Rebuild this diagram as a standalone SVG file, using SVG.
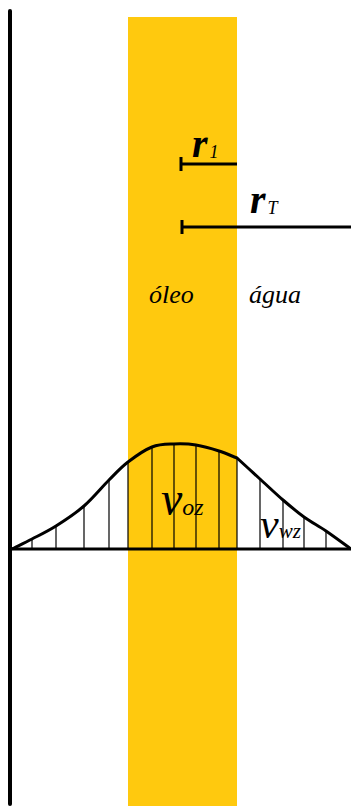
<svg xmlns="http://www.w3.org/2000/svg" width="351" height="806" viewBox="0 0 351 806">
<style>
.t{font-family:"Liberation Serif",serif;font-style:italic;fill:#000}
.h{stroke:#000;stroke-width:1.2}
</style>
<rect width="351" height="806" fill="#fff"/>
<g id="band"><rect x="128" y="17" width="109" height="789" fill="#FFC90E"/></g>
<g id="wall"><line x1="10" y1="11" x2="10" y2="804" stroke="#000" stroke-width="4" stroke-linecap="round"/></g>
<g id="connectors">
<path d="M181,164H237M181,157V171" stroke="#000" stroke-width="3" fill="none"/>
<path d="M182,227H351M182,220V234" stroke="#000" stroke-width="3" fill="none"/>
</g>
<g id="r1"><text class="t" x="192" y="157" font-size="40" font-weight="bold">r<tspan font-size="18" font-weight="normal" dx="2" dy="1">1</tspan></text></g>
<g id="rT"><text class="t" x="250" y="213" font-size="40" font-weight="bold">r<tspan font-size="18" font-weight="normal" dx="2" dy="1">T</tspan></text></g>
<g id="oleo"><text class="t" x="149" y="303" font-size="26">óleo</text></g>
<g id="agua"><text class="t" x="249" y="303" font-size="26">água</text></g>
<g id="profile">
<g class="h">
<line x1="32" y1="549" x2="32" y2="539"/>
<line x1="56" y1="549" x2="56" y2="526"/>
<line x1="84" y1="549" x2="84" y2="506"/>
<line x1="109" y1="549" x2="109" y2="480"/>
<line x1="128" y1="549" x2="128" y2="462"/>
<line x1="152" y1="549" x2="152" y2="447"/>
<line x1="174" y1="549" x2="174" y2="444"/>
<line x1="196" y1="549" x2="196" y2="445"/>
<line x1="219" y1="549" x2="219" y2="451"/>
<line x1="237" y1="549" x2="237" y2="458"/>
<line x1="260" y1="549" x2="260" y2="479"/>
<line x1="283" y1="549" x2="283" y2="500"/>
<line x1="304" y1="549" x2="304" y2="517"/>
<line x1="326" y1="549" x2="326" y2="531"/>
</g>
<path d="M12,549 C15.3,547.3 24.7,542.8 32,539 C39.3,535.2 47.3,531.5 56,526 C64.7,520.5 75.2,513.7 84,506 C92.8,498.3 101.7,487.3 109,480 C116.3,472.7 120.8,467.5 128,462 C135.2,456.5 144.3,450 152,447 C159.7,444 166.7,444.3 174,444 C181.3,443.7 188.5,443.8 196,445 C203.5,446.2 212.2,448.8 219,451 C225.8,453.2 231,455.7 237,458 C244.7,465 252.3,472 260,479 C267.7,486 275.7,493.7 283,500 C290.3,506.3 296.8,511.8 304,517 C311.2,522.2 318.2,525.7 326,531 C333.8,536.3 346.8,546 351,549" fill="none" stroke="#000" stroke-width="3"/>
<line x1="10" y1="549" x2="351" y2="549" stroke="#000" stroke-width="3"/>
</g>
<g id="voz"><text class="t" x="161" y="515" font-size="48">v<tspan font-size="24">oz</tspan></text></g>
<g id="vwz"><text class="t" x="260" y="538" font-size="42">v<tspan font-size="21">wz</tspan></text></g>
</svg>
